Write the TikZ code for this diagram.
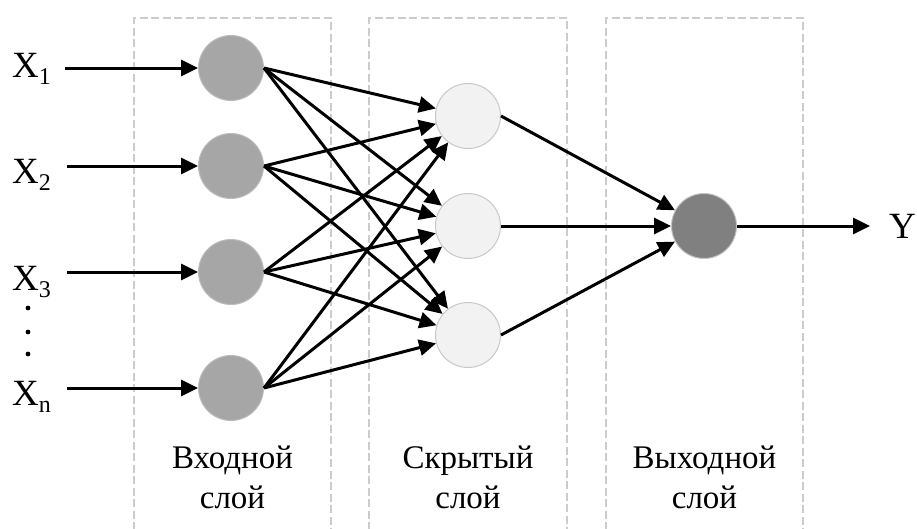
\documentclass[tikz,border=0pt]{standalone}
\usepackage{fontspec}
\setmainfont{Liberation Serif}
\usetikzlibrary{arrows.meta}
\definecolor{inpfill}{HTML}{A6A6A6}
\definecolor{inpdraw}{HTML}{BDBDBD}
\definecolor{hidfill}{HTML}{F2F2F2}
\definecolor{hiddraw}{HTML}{C8C8C8}
\definecolor{outfill}{HTML}{808080}
\definecolor{outdraw}{HTML}{C4C4C4}
\definecolor{boxgray}{HTML}{CCCCCC}
\begin{document}
\begin{tikzpicture}[x=1pt,y=-1pt,
  neuron/.style={circle, minimum size=65pt, inner sep=0pt, line width=1pt},
  inp/.style={neuron, fill=inpfill, draw=inpdraw},
  hid/.style={neuron, fill=hidfill, draw=hiddraw},
  outn/.style={neuron, fill=outfill, draw=outdraw},
  conn/.style={line width=3pt, -{Triangle[length=17pt,width=16pt]}},
  layerbox/.style={draw=boxgray, line width=2.6pt, dash pattern=on 8pt off 3.5pt},
  xlabel/.style={anchor=base west, inner sep=0pt, font=\fontsize{37}{40}\selectfont},
  layerlabel/.style={anchor=north, align=center, inner sep=0pt, font=\fontsize{33}{40}\selectfont},
  dotmark/.style={fill=black, draw=none}
]
\useasboundingbox (0,0) rectangle (917,528);

% layer boxes
\draw[layerbox] (134,530) -- (134,18) -- (331,18) -- (331,530);
\draw[layerbox] (369,530) -- (369,18) -- (567,18) -- (567,530);
\draw[layerbox] (606,530) -- (606,18) -- (803,18) -- (803,530);

% neurons
\node[inp] (i1) at (231,68) {};
\node[inp] (i2) at (231,166) {};
\node[inp] (i3) at (231,272) {};
\node[inp] (i4) at (231,388) {};
\node[hid] (h1) at (468,116) {};
\node[hid] (h2) at (468,226) {};
\node[hid] (h3) at (468,335) {};
\node[outn] (o) at (704,226) {};

% input labels
\newcommand{\sbs}[1]{\raisebox{-7pt}{\fontsize{24}{24}\selectfont #1}}
\node[xlabel] (x1) at (12,77) {X\sbs{1}};
\node[xlabel] (x2) at (12,183) {X\sbs{2}};
\node[xlabel] (x3) at (12,290) {X\sbs{3}};
\node[xlabel] (x4) at (12,405) {X\sbs{n}};
\node[xlabel] (y) at (889,238) {Y};

\fill[dotmark] (28,308) circle (2.4);
\fill[dotmark] (28,332) circle (2.4);
\fill[dotmark] (28,354) circle (2.4);

\coordinate (s1) at (65,68);
\coordinate (s2) at (67,166);
\coordinate (s3) at (67,272);
\coordinate (s4) at (67,388);
\coordinate (yend) at (870,226);

% connections
\foreach \i in {1,...,4} {
  \draw[conn] (s\i) -- (i\i);
  \foreach \j in {1,2,3} {
    \draw[conn] (i\i.east) -- (h\j);
  }
}
\foreach \j in {1,2,3} {
  \draw[conn] (h\j.east) -- (o);
}
\draw[conn] (o.east) -- (yend);

% layer labels
\node[layerlabel] (l1) at (232.5,446) {Входной\\слой};
\node[layerlabel] (l2) at (468,446) {Скрытый\\слой};
\node[layerlabel] (l3) at (704.5,446) {Выходной\\слой};
\end{tikzpicture}
\end{document}
